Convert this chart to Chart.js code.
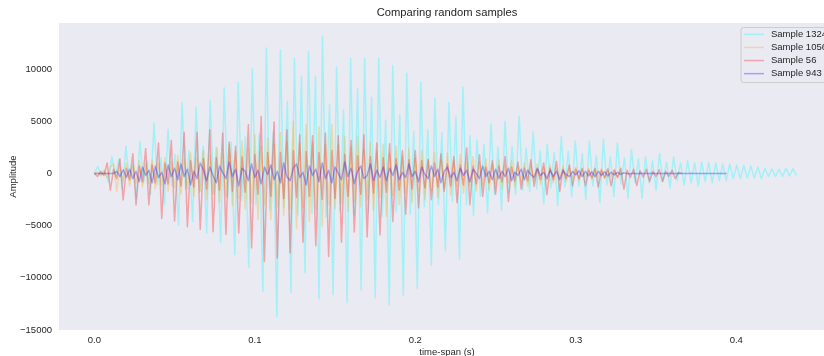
<!DOCTYPE html>
<html>
<head>
<meta charset="utf-8">
<script src="https://cdn.jsdelivr.net/npm/chart.js@4"></script>
<style>
  html, body { margin: 0; padding: 0; background: #fff; overflow: hidden; }
  #wrap { width: 824px; height: 356px; overflow: hidden; }
</style>
</head>
<body>
<div id="wrap"><canvas id="grafic" width="850" height="360"></canvas></div>
<script>
// sample spacing (s) of each recording
const step1324 = 0.0021875;
const step1056 = 0.002;
const step56 = 0.002;
const step943 = 0.002;

const sample1324 = [
  0, 650, -200, 150, -800, 1600, -300, 1400, -1500, 2600, -600, 900, -2400, 3100, -900, 1200,
  -2000, 4800, -1100, 1500, -3000, 4200, -1200, 1800, -5000, 6800, -1500, 2200, -4600, 6300, -1800, 2600,
  -5700, 7000, -2000, 2400, -6600, 8200, -2300, 3000, -7800, 8700, -2600, 3500, -9000, 10000, -3000, 3800,
  -11300, 12000, -3500, 4000, -13700, 11800, -3300, 6900, -11400, 11000, -4000, 9300, -9500, 11700, -3800, 9300,
  -12000, 13100, -4200, 6600, -11600, 10200, -3600, 6100, -12400, 11000, -4000, 8100, -11200, 11000, -3800, 7300,
  -11900, 11000, -4100, 5100, -12600, 10300, -3700, 5600, -11700, 9600, -3900, 4000, -11000, 8700, -3200, 4200,
  -8800, 7200, -3000, 3900, -7400, 6800, -2700, 5400, -8200, 8300, -3000, 3600, -4000, 3200, -2200, 2800,
  -3800, 4700, -2000, 2500, -3500, 5000, -1800, 2600, -2000, 5500, -1600, 2400, -1700, 4000, -1500, 2200,
  -2900, 2800, -1400, 2000, -3100, 3500, -1300, 2100, -2200, 3100, -1200, 1900, -2500, 3100, -1200, 1700,
  -2800, 3300, -1100, 1600, -2200, 2900, -1000, 1500, -2400, 2300, -900, 1400, -2400, 1600, -900, 1200,
  -1600, 1900, -800, 1100, -1400, 1600, -700, 1000, -1100, 1200, -900, 1000, -1200, 1100, -800, 1050,
  -900, 1000, -700, 900, -700, 900, -500, 800, -500, 750, -450, 700, -450, 600, -500, 500,
  -300, 450, -300, 400, -300, 500, -250, 450, -200
];

const sample1056 = [
  0, 100, -200, 300, -400, 600, 900, -1700, 600, -700, 1000, -1200, 700, -900, 1200, -1300,
  900, -1000, 1300, -1500, 1000, -1200, 1500, -1700, 1100, -1400, 1700, -2000, 1300, -1500, 2000, -2200,
  1500, -1700, 2200, -2500, 1700, -2000, 2500, -2800, 1900, -2200, 2800, -3100, 2100, -2400, 3100, -3400,
  2400, -2800, 3700, -4400, 2600, -3000, 3400, -4400, 2800, -3200, 3900, -4000, 3000, -3400, 4980, -5250,
  2900, -3300, 4670, -4600, 3000, -3400, 4500, -5100, 2800, -3000, 4670, -3390, 2700, -2900, 3550, -3650,
  2500, -2700, 3550, -3200, 2300, -2500, 3000, -3500, 2100, -2300, 2800, -4100, 1900, -2100, 2590, -3000,
  1700, -1900, 2400, -2800, 1500, -1700, 2200, -2500, 1400, -1600, 2000, -2300, 1300, -1400, 1950, -2100,
  1200, -1300, 1800, -1900, 1100, -1200, 1600, -1700, 1000, -1100, 1400, -1600, 900, -1000, 1300, -1500,
  800, -900, 1200, -1300, 700, -800, 1000, -1200, 650, -700, 900, -1100, 600, -650, 800, -900,
  500, -550, 700, -800, 450, -500, 600, -700, 400, -400, 500, -600, 350, -350, 450, -500,
  250, -300, 400, -400, 100, 0
];

const sample56 = [
  0, -300, 200, -200, 1000, -1600, 400, -500, 1380, -2550, 500, -600, 1890, -3030, 700, -800,
  2370, -3000, 800, -900, 2910, -4310, 1000, -1000, 3160, -4560, 1100, -1200, 3930, -5100, 1200, -1300,
  3930, -5360, 1400, -1500, 4190, -5580, 1500, -1600, 3870, -5840, 3000, -1700, 2600, -5700, 1600, -1800,
  4670, -7150, 1800, -2000, 5460, -8430, 2000, -2200, 4920, -8100, 2000, -2400, 4190, -7630, 2200, -2300,
  3700, -6600, 2100, -2200, 3600, -6930, 2000, -2500, 3870, -7950, 2200, -2400, 3600, -6600, 1800, -2200,
  3160, -5620, 1700, -2000, 3700, -6100, 1600, -1900, 2910, -5900, 1500, -1800, 2840, -4600, 1400, -1600,
  2180, -3900, 1300, -1500, 2180, -3300, 1200, -1400, 1310, -2520, 1000, -1300, 1890, -1730, 900, -1200,
  1600, -2800, 800, -1100, 2430, -3000, 700, -1000, 1790, -2200, 600, -900, 1200, -2000, 700, -800,
  1630, -2680, 600, -700, 1100, -1500, 500, -700, 1310, -1250, 400, -600, 1000, -2040, 500, -600,
  1150, -1730, 400, -500, 800, -1200, 400, -500, 500, -1180, 300, -400, 500, -1310, 300, -400,
  450, -1200, 300, -400, 500, -1500, 300, -400, 400, -1180, 250, -350, 400, -770, 200, -300,
  350, -770, 200, -300, 300, -500, 100, 0
];

const sample943 = [
  0, 0, 0, 0, 0, 0, 0, 200, -300, 350, -400,
  400, -500, 200, -800, 600, -200, 300, -900, 700, -400, 100, -1000, 800, -300, 500,
  -600, 900, -300, 400, -1100, 200, -500, 1000, 300, -700, 600, -200, -900, 700, 100, -500,
  1100, -300, 400, -1200, 500, 200, -700, 900, -400, 300, -1000, 600, -100, 800, -600, 200,
  -900, 1000, -300, -700, 500, 900, -400, 100, -1100, 700, -200, 400, -800, 1000, -500, 300,
  -900, 600, 0, -600, 1100, -300, 500, -1000, 200, 700, -500, -200, 900, -700, 300, -400, 600,
  -700, 500, -200, 800, -600, 100, -400, 900, -300, 200, -800, 600, -100, -500, 700, -300, 400,
  -900, 200, 600, -400, 100, -700, 500, -200, 300, -800, 400, 0, -500, 700, -300, 200, -600, 400,
  -500, 200, -300, 500, -700, 100, -200, 400, -600, 300, -100, -400, 500, -200, 100, -500, 300,
  -300, 200, -600, 250, -100, -300, 200, -150,
  250, -300, 200, -250, 150, -300, 200, -200, 150, -250, 100, -150, 100, -100, 50,
  0, -40, 20, -30, 10, -20, 0, -10, 10, -20, 0, -10, 0, 10, -10, 0, 0, -10, 0, 0, 10, 0, -10, 0, 0, 0,
  -10, 0, 0, 0, 0, 0
];

const seriesNames = ['Sample 1324', 'Sample 1056', 'Sample 56', 'Sample 943'];
const seriesColors = ['rgba(0,255,255,0.3)', 'rgba(255,165,0,0.3)', 'rgba(255,0,0,0.3)', 'rgba(0,0,255,0.3)'];
const xTicks = [0.0, 0.1, 0.2, 0.3, 0.4];
const yTicks = [-15000, -10000, -5000, 0, 5000, 10000];

const textColor = '#262626';
const fontFamily = '"Liberation Sans", Arial, sans-serif';

function toPoints(values, step) {
  return values.map((v, i) => ({ x: i * step, y: v }));
}

const allSeries = [
  toPoints(sample1324, step1324),
  toPoints(sample1056, step1056),
  toPoints(sample56, step56),
  toPoints(sample943, step943)
];

const plotBg = {
  id: 'plotBg',
  beforeDraw(chart) {
    const ctx = chart.ctx;
    const a = chart.chartArea;
    ctx.save();
    ctx.fillStyle = '#ffffff';
    ctx.fillRect(0, 0, chart.width, chart.height);
    ctx.fillStyle = '#EAEAF2';
    ctx.fillRect(a.left, a.top, a.right - a.left, a.bottom - a.top);
    ctx.restore();
  }
};

// matplotlib style legend in the upper right corner of the axes
const cornerLegend = {
  id: 'cornerLegend',
  afterDraw(chart) {
    const ctx = chart.ctx;
    const a = chart.chartArea;
    const x0 = a.right - 94, y0 = a.top + 4.5, w = 90, h = 55, r = 2.5;
    ctx.save();
    ctx.beginPath();
    ctx.roundRect(x0, y0, w, h, r);
    ctx.fillStyle = 'rgba(234,234,242,0.8)';
    ctx.fill();
    ctx.strokeStyle = '#cccccc';
    ctx.lineWidth = 1;
    ctx.stroke();
    ctx.font = '9.5px ' + fontFamily;
    ctx.textBaseline = 'middle';
    ctx.textAlign = 'left';
    for (let i = 0; i < seriesNames.length; i++) {
      const y = y0 + 6.8 + i * 13.1;
      ctx.beginPath();
      ctx.moveTo(x0 + 3, y);
      ctx.lineTo(x0 + 23, y);
      ctx.strokeStyle = seriesColors[i];
      ctx.lineWidth = 1.5;
      ctx.stroke();
      ctx.fillStyle = textColor;
      ctx.fillText(seriesNames[i], x0 + 30, y);
    }
    ctx.restore();
  }
};

const ctx = document.getElementById('grafic').getContext('2d');
new Chart(ctx, {
  type: 'line',
  data: {
    datasets: allSeries.map((pts, i) => ({
      label: seriesNames[i],
      data: pts,
      borderColor: seriesColors[i],
      borderWidth: 1.5,
      borderJoinStyle: 'round',
      pointRadius: 0,
      tension: 0,
      fill: false,
      order: seriesNames.length - i
    }))
  },
  options: {
    responsive: false,
    animation: false,
    devicePixelRatio: 1,
    layout: { padding: { left: 0, right: 15, top: 0, bottom: 0 } },
    plugins: {
      legend: { display: false },
      tooltip: { enabled: false },
      title: {
        display: true,
        text: 'Comparing random samples',
        color: textColor,
        fullSize: false,
        font: { family: fontFamily, size: 11.2, weight: 'normal' },
        padding: { top: 6.3, bottom: 3.3 }
      }
    },
    scales: {
      x: {
        type: 'linear',
        min: -0.022,
        max: 0.4615,
        grid: { display: false, drawTicks: false },
        border: { display: false },
        afterBuildTicks: s => { s.ticks = xTicks.map(v => ({ value: v })); },
        afterFit: s => { s.height = 30; },
        ticks: {
          color: textColor,
          padding: 5,
          font: { family: fontFamily, size: 9.5 },
          callback: v => v.toFixed(1)
        },
        title: {
          display: true,
          text: 'time-span (s)',
          color: textColor,
          font: { family: fontFamily, size: 9.5 },
          padding: { top: 0, bottom: 1.5 }
        }
      },
      y: {
        type: 'linear',
        min: -15000,
        max: 14400,
        grid: { display: false, drawTicks: false },
        border: { display: false },
        afterBuildTicks: s => { s.ticks = yTicks.map(v => ({ value: v })); },
        afterFit: s => { s.width = 59; },
        ticks: {
          color: textColor,
          padding: 7,
          font: { family: fontFamily, size: 9.5 },
          callback: v => (v < 0 ? '\u2212' + Math.abs(v) : String(v))
        },
        title: {
          display: true,
          text: 'Amplitude',
          color: textColor,
          font: { family: fontFamily, size: 9.5 },
          padding: { top: 7.5, bottom: 0 }
        }
      }
    }
  },
  plugins: [plotBg, cornerLegend]
});
</script>
</body>
</html>
